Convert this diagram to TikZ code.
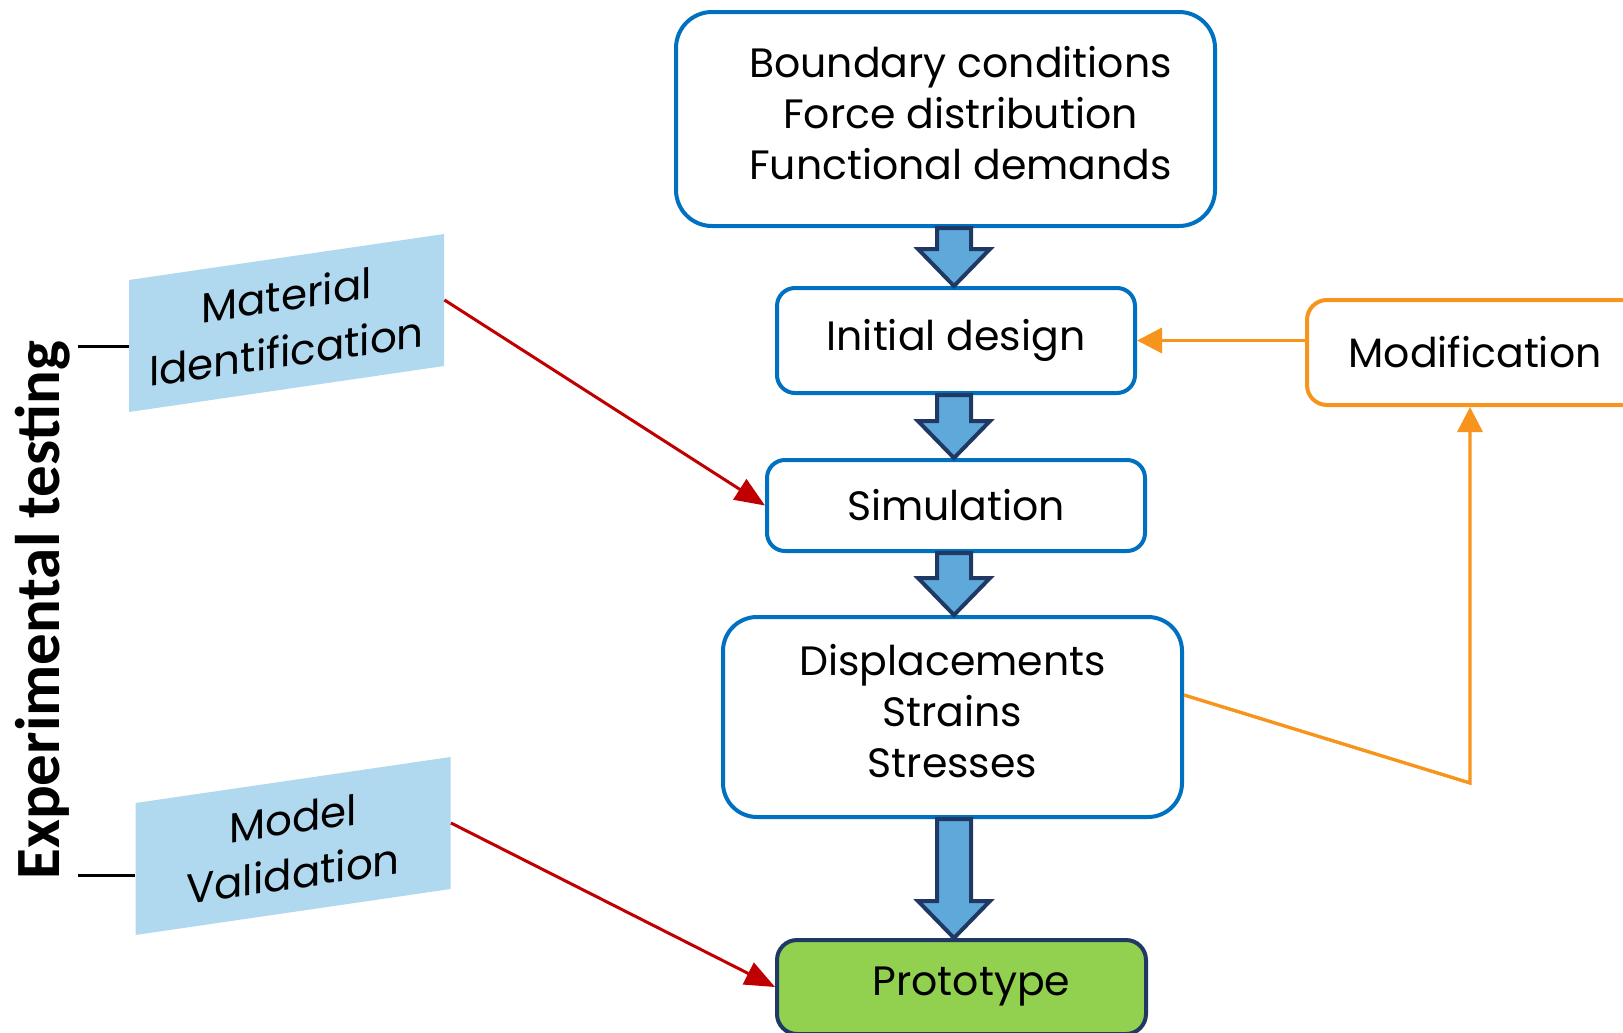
\documentclass[tikz,border=0pt]{standalone}
\usepackage{fontspec}
\setmainfont{Poppins}
\newfontfamily\sidefont{Carlito}
\usetikzlibrary{arrows.meta, positioning, calc}

\definecolor{boxblue}{HTML}{0070C0}
\definecolor{modorange}{HTML}{F7941D}
\definecolor{arrowred}{HTML}{C00000}
\definecolor{protogreen}{HTML}{92D050}
\definecolor{navy}{HTML}{1F3864}
\definecolor{slantblue}{HTML}{B0D8EE}
\definecolor{arrowblue}{HTML}{5EA9DA}

% fat down arrow between two stacked boxes
\newcommand{\flowarrow}[2]{%
  \draw[blockarr]
    ([xshift=-8.5pt]col |- #1.south) -- ([xshift=8.5pt]col |- #1.south)
    -- ([xshift=8.5pt, yshift=18.5pt]col |- #2.north)
    -- ([xshift=18pt, yshift=18.5pt]col |- #2.north)
    -- (col |- #2.north)
    -- ([xshift=-18pt, yshift=18.5pt]col |- #2.north)
    -- ([xshift=-8.5pt, yshift=18.5pt]col |- #2.north) -- cycle;}

\begin{document}
\begin{tikzpicture}[
  x=0.5pt, y=-0.5pt,
  font=\fontsize{20.5}{25.5}\selectfont,
  box/.style={draw=boxblue, line width=2pt, rounded corners=9pt, align=center, fill=white, inner sep=0pt},
  modbox/.style={draw=modorange, line width=2pt, rounded corners=10pt, align=center, fill=white, inner sep=0pt},
  protobox/.style={draw=navy, fill=protogreen, line width=2pt, rounded corners=10pt, align=center, inner sep=0pt},
  slantbox/.style={fill=slantblue, yslant=0.146, align=center, minimum width=157.5pt, minimum height=66pt, inner sep=0pt},
  redarrow/.style={-{Triangle[length=15pt, width=12pt]}, draw=arrowred, line width=1.5pt},
  orangearrow/.style={-{Triangle[length=12.5pt, width=12.5pt]}, draw=modorange, line width=1.7pt},
  blockarr/.style={draw=navy, fill=arrowblue, line width=2pt},
  tick/.style={draw=black, line width=1.5pt}
]
\clip (0,0) rectangle (1623,1033);

% =========================
% main column
% =========================
\node[box, rounded corners=18pt, text depth=6pt, minimum width=269.5pt, minimum height=107pt] (bc) at (945.5,119) {
\hspace*{15pt}Boundary conditions\\
\hspace*{15pt}Force distribution\\
\hspace*{15pt}Functional demands
};
\node[box, below=29pt of bc, xshift=5.25pt, minimum width=179pt, minimum height=52.5pt] (init) {Initial design};
\node[box, below=31.5pt of init, minimum width=189pt, minimum height=45.5pt] (sim) {Simulation};
\node[box, below=31pt of sim, xshift=-1.75pt, rounded corners=17pt, text depth=6pt, minimum width=229.5pt, minimum height=100pt] (disp) {
Displacements\\
Strains\\
Stresses
};
\node[protobox, below=59.5pt of disp, xshift=4.5pt, minimum width=184.5pt, minimum height=47pt] (proto) {\hspace*{10pt}Prototype};

% fat arrows down the column
\coordinate (col) at (954,0);
\flowarrow{bc}{init}
\flowarrow{init}{sim}
\flowarrow{sim}{disp}
\flowarrow{disp}{proto}

% =========================
% modification loop
% =========================
\node[modbox, minimum width=168pt, minimum height=52.5pt] (modif) at (1475,352.5) {Modification};

\draw[orangearrow] (modif.west |- init.east) -- (init.east);
\coordinate (dispout) at ($(disp.east)+(0,-22)$);
\coordinate (turn) at (1470,783);
\draw[orangearrow] (dispout) -- (turn) -- (turn |- modif.south);

% =========================
% experimental testing
% =========================
\node[rotate=90, font=\sidefont\bfseries\fontsize{31.5}{36}\selectfont] (exptest) at (43,610) {Experimental testing};

\node[slantbox, font=\fontsize{21}{28}\selectfont] (matid) at (286.5,323) {Material\\Identification};
\node[slantbox, font=\fontsize{21}{27.5}\selectfont] (modval) at (293,846) {Model\\Validation};

\draw[tick] (matid.west) -- (matid.west -| exptest.south);
\draw[tick] ([yshift=-3pt]modval.west) -- ([yshift=-3pt]modval.west -| exptest.south);

\draw[redarrow] (matid.east) -- (sim.west);
\draw[redarrow] (modval.east) -- (proto.west);

\end{tikzpicture}
\end{document}
